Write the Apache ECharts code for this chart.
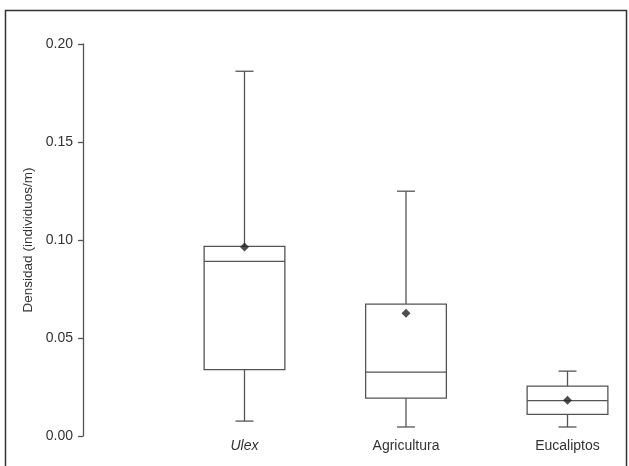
<!DOCTYPE html>
<html>
<head>
<meta charset="utf-8">
<script src="https://cdn.jsdelivr.net/npm/echarts@6/dist/echarts.min.js"></script>
<style>html,body{margin:0;padding:0;background:#fff;}#c{width:629px;height:466px;}</style>
</head>
<body>
<div id="c"></div>
<script>
// Data
var categories = ['Ulex', 'Agricultura', 'Eucaliptos'];
var italicCategories = ['Ulex'];
var lowWhisker = [0.0076, 0.0046, 0.0046];
var q1Values = [0.0339, 0.0193, 0.0110];
var medianValues = [0.0891, 0.0326, 0.0180];
var q3Values = [0.0967, 0.0673, 0.0254];
var highWhisker = [0.1861, 0.1249, 0.0331];
var meanValues = [0.0964, 0.0626, 0.0183];
var yTicks = [0, 0.05, 0.10, 0.15, 0.20];

var boxData = categories.map(function (c, i) {
  return [i + 1, lowWhisker[i], q1Values[i], medianValues[i], q3Values[i], highWhisker[i]];
});
var meanData = categories.map(function (c, i) { return [i + 1, meanValues[i]]; });

var lineColor = '#555';
var textColor = '#333';
var fontFamily = '"Liberation Sans", Arial, Helvetica, sans-serif';

var chart = echarts.init(document.getElementById('c'));
chart.setOption({
  animation: false,
  backgroundColor: '#fff',
  graphic: [{
    type: 'rect',
    shape: { x: 5.5, y: 10.5, width: 621, height: 480 },
    style: { fill: 'none', stroke: '#333', lineWidth: 1.5 },
    silent: true
  }],
  grid: { left: 83, top: 44, bottom: 30, width: 3.3 * 161.5, containLabel: false },
  xAxis: {
    type: 'value',
    min: 0,
    max: 3.3,
    interval: 1,
    axisLine: { show: false },
    axisTick: { show: false },
    splitLine: { show: false },
    axisLabel: {
      margin: 3,
      color: textColor,
      fontSize: 14,
      fontFamily: fontFamily,
      showMaxLabel: false,
      formatter: function (v) {
        var name = categories[Math.round(v) - 1];
        if (!name || Math.abs(v - Math.round(v)) > 1e-6) return '';
        return italicCategories.indexOf(name) >= 0 ? '{it|' + name + '}' : name;
      },
      rich: { it: { fontStyle: 'italic', fontSize: 14, color: textColor, fontFamily: fontFamily } }
    }
  },
  yAxis: {
    type: 'value',
    min: yTicks[0],
    max: yTicks[yTicks.length - 1],
    interval: 0.05,
    name: 'Densidad (individuos/m)',
    nameLocation: 'middle',
    nameGap: 45,
    nameTextStyle: { color: textColor, fontSize: 13.5, fontFamily: fontFamily },
    axisLine: { show: true, lineStyle: { color: lineColor, width: 1.3 } },
    axisTick: { show: true, length: 5, lineStyle: { color: lineColor, width: 1.3 } },
    splitLine: { show: false },
    axisLabel: {
      margin: 10,
      color: textColor,
      fontSize: 14,
      fontFamily: fontFamily,
      formatter: function (v) { return v.toFixed(2); }
    }
  },
  series: [{
    type: 'custom',
    data: boxData,
    encode: { x: 0, y: [1, 2, 3, 4, 5] },
    renderItem: function (params, api) {
      var x = api.value(0);
      var halfW = api.size([0.5, 0])[0] / 2;
      var capHalf = 9;
      var pLow = api.coord([x, api.value(1)]);
      var pQ1 = api.coord([x, api.value(2)]);
      var pMed = api.coord([x, api.value(3)]);
      var pQ3 = api.coord([x, api.value(4)]);
      var pHigh = api.coord([x, api.value(5)]);
      var cx = pQ1[0];
      var st = { stroke: lineColor, lineWidth: 1.3, fill: 'none' };
      return {
        type: 'group',
        children: [
          { type: 'rect', shape: { x: cx - halfW, y: pQ3[1], width: 2 * halfW, height: pQ1[1] - pQ3[1] }, style: st },
          { type: 'line', shape: { x1: cx - halfW, y1: pMed[1], x2: cx + halfW, y2: pMed[1] }, style: st },
          { type: 'line', shape: { x1: cx, y1: pQ3[1], x2: cx, y2: pHigh[1] }, style: st },
          { type: 'line', shape: { x1: cx, y1: pQ1[1], x2: cx, y2: pLow[1] }, style: st },
          { type: 'line', shape: { x1: cx - capHalf, y1: pHigh[1], x2: cx + capHalf, y2: pHigh[1] }, style: st },
          { type: 'line', shape: { x1: cx - capHalf, y1: pLow[1], x2: cx + capHalf, y2: pLow[1] }, style: st }
        ]
      };
    },
    z: 2
  }, {
    type: 'scatter',
    data: meanData,
    symbol: 'diamond',
    symbolSize: 9,
    itemStyle: { color: '#222' },
    z: 3
  }]
});
</script>
</body>
</html>
